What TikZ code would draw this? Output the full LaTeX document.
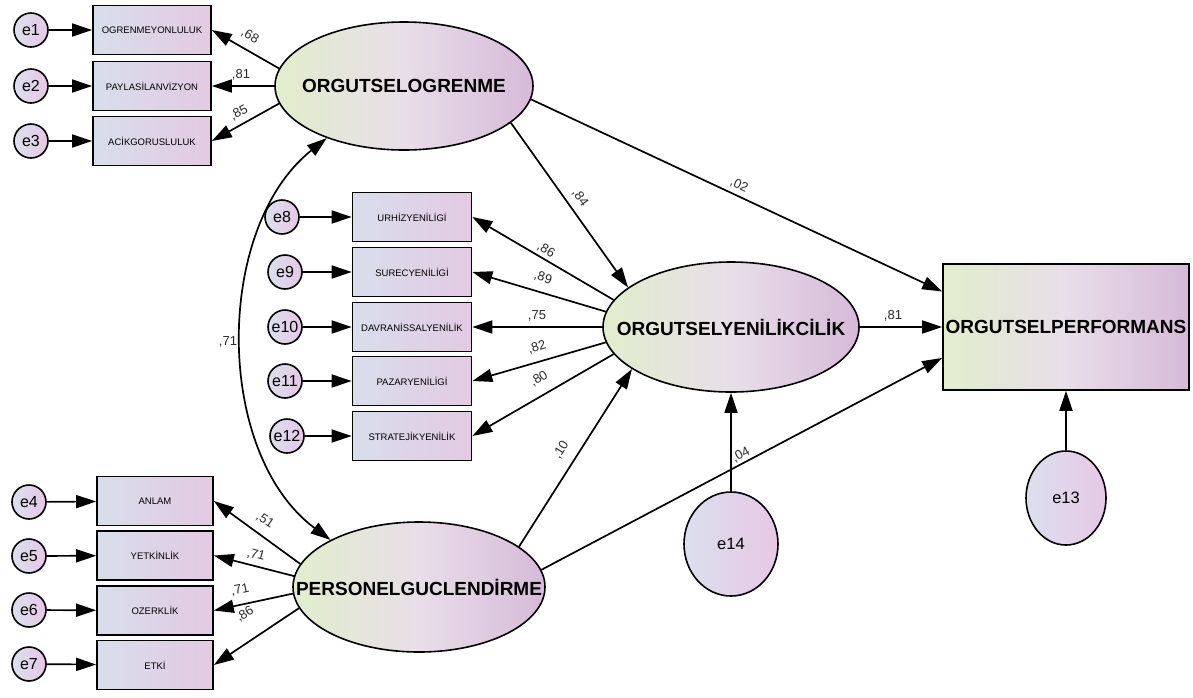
\documentclass[tikz,border=0pt]{standalone}
\usepackage{fontspec}
\setmainfont{Liberation Sans}
\usetikzlibrary{shapes.geometric,arrows.meta}

\definecolor{lvgreen}{HTML}{E1EECC}
\definecolor{lvmid}{HTML}{E8DEE9}
\definecolor{lvlilac}{HTML}{D6BAD8}
\definecolor{obsblue}{HTML}{D8DEEB}
\definecolor{obspink}{HTML}{E3CAE2}
\definecolor{errblue}{HTML}{DCDFEF}
\definecolor{errpink}{HTML}{E6C8E4}
\definecolor{coefcol}{HTML}{2A2A2A}

% zero-width centred text, so the ellipse keeps its own size
\newcommand{\cz}[1]{\makebox[0pt]{#1}}

\begin{document}
\begin{tikzpicture}[x=1pt,y=-1pt,
  latent/.style={ellipse, draw=black, line width=1.6pt, inner sep=0pt,
    minimum width=256pt, minimum height=128pt,
    left color=lvgreen, right color=lvlilac, middle color=lvmid,
    font=\fontsize{19}{19}\selectfont\bfseries},
  outcome/.style={rectangle, draw=black, line width=1.6pt, inner sep=0pt,
    minimum width=246pt, minimum height=126pt,
    left color=lvgreen, right color=lvlilac, middle color=lvmid,
    font=\fontsize{19}{19}\selectfont\bfseries},
  obsbox/.style={rectangle, draw=black, line width=1.7pt, inner sep=0pt,
    minimum height=49pt,
    left color=obsblue, right color=obspink,
    font=\fontsize{9.5}{10}\selectfont},
  errc/.style={circle, draw=black, line width=1.6pt, inner sep=0pt,
    minimum size=34pt, left color=errblue, right color=errpink,
    font=\fontsize{16}{16}\selectfont},
  errbig/.style={ellipse, draw=black, line width=1.6pt, inner sep=0pt,
    left color=errblue, right color=errpink,
    font=\fontsize{16.5}{16.5}\selectfont},
  arr/.style={draw, line width=1.7pt, -{Triangle[length=20pt,width=13pt]}},
  biarr/.style={draw, line width=1.7pt,
    {Triangle[length=20pt,width=13pt]}-{Triangle[length=20pt,width=13pt]}},
  coef/.style={font=\fontsize{13}{13}\selectfont, text=coefcol, inner sep=0pt}
]
\fill[white] (0,0) rectangle (1193,697);
\useasboundingbox (0,0) rectangle (1193,697);

% ---- organisational learning block
\node[errc] (e1) at (31,30) {e1};
\node[errc] (e2) at (31,86) {e2};
\node[errc] (e3) at (31,141) {e3};
\node[obsbox, minimum width=118pt] (o1) at (152,30) {OGRENMEYONLULUK};
\node[obsbox, minimum width=118pt] (o2) at (152,86) {PAYLASİLANVİZYON};
\node[obsbox, minimum width=118pt] (o3) at (152,141) {ACİKGORUSLULUK};
\node[latent, minimum width=258pt] (OL) at (404,86) {\cz{ORGUTSELOGRENME}};

% ---- innovation block
\node[errc] (e8) at (282,217) {e8};
\node[errc] (e9) at (285,272) {e9};
\node[errc] (e10) at (285,327) {e10};
\node[errc] (e11) at (285,381) {e11};
\node[errc] (e12) at (287,436) {e12};
\node[obsbox, minimum width=119pt] (m1) at (412,217) {URHİZYENİLİGİ};
\node[obsbox, minimum width=119pt] (m2) at (412,272) {SURECYENİLİGİ};
\node[obsbox, minimum width=119pt] (m3) at (412,327) {DAVRANİSSALYENİLİK};
\node[obsbox, minimum width=119pt] (m4) at (412,381) {PAZARYENİLİGİ};
\node[obsbox, minimum width=119pt] (m5) at (412,436) {STRATEJİKYENİLİK};
\node[latent, minimum height=130pt] (OY) at (731,327) {\cz{ORGUTSELYENİLİKCİLİK}};

% ---- performance
\node[outcome] (perf) at (1066,327) {ORGUTSELPERFORMANS};
\node[errbig, minimum width=80pt, minimum height=94pt] (e13) at (1066,498) {e13};
\node[errbig, minimum width=94pt, minimum height=104pt] (e14) at (731,544) {e14};

% ---- empowerment block
\node[errc] (e4) at (29,502) {e4};
\node[errc] (e5) at (29,556) {e5};
\node[errc] (e6) at (29,610) {e6};
\node[errc] (e7) at (29,664) {e7};
\node[obsbox, minimum width=116pt] (b1) at (155,501) {ANLAM};
\node[obsbox, minimum width=116pt] (b2) at (155,555.5) {YETKİNLİK};
\node[obsbox, minimum width=116pt] (b3) at (155,610.5) {OZERKLİK};
\node[obsbox, minimum width=116pt] (b4) at (155,665) {ETKİ};
\node[latent, minimum width=252pt, minimum height=130pt] (PG) at (419,587) {\cz{PERSONELGUCLENDİRME}};

% ---- error terms into indicators
\draw[arr] (e1) -- (o1);
\draw[arr] (e2) -- (o2);
\draw[arr] (e3) -- (o3);
\draw[arr] (e8) -- (m1);
\draw[arr] (e9) -- (m2);
\draw[arr] (e10) -- (m3);
\draw[arr] (e11) -- (m4);
\draw[arr] (e12) -- (m5);
\draw[arr] (e4) -- (b1);
\draw[arr] (e5) -- (b2);
\draw[arr] (e6) -- (b3);
\draw[arr] (e7) -- (b4);
\draw[arr] (e14) -- (OY);
\draw[arr] (e13) -- (perf);

% ---- loadings
\draw[arr] (OL.172) -- (o1.east);
\draw[arr] (OL.180) -- (o2.east);
\draw[arr] (OL.188) -- (o3.east);
\draw[arr] (OY.167) -- (m1.east);
\draw[arr] (OY.173) -- (m2.east);
\draw[arr] (OY.180) -- (m3.east);
\draw[arr] (OY.187) -- (m4.east);
\draw[arr] (OY.193) -- (m5.east);
\draw[arr] (PG.169) -- (b1.east);
\draw[arr] (PG.175) -- (b2.east);
\draw[arr] (PG.183) -- (b3.east);
\draw[arr] (PG.190) -- (b4.east);

% ---- structural paths
\draw[arr] (OL.354) -- (perf.164.5);
\draw[arr] (OL.341) -- (OY.159);
\draw[arr] (PG.22) -- (OY.203);
\draw[arr] (PG.8) -- (perf.194);
\draw[arr] (OY) -- (perf);
\draw[biarr] (OL.214) .. controls (214,228) and (214,453) .. (PG.152);

% ---- coefficients
\node[coef, rotate=-30] (c68) at (250,36) {,68};
\node[coef] (c81a) at (241,75) {,81};
\node[coef, rotate=28] (c85) at (239,113) {,85};
\node[coef, rotate=-31] (c86a) at (546,250) {,86};
\node[coef, rotate=-17] (c89) at (543,278) {,89};
\node[coef] (c75) at (537,316) {,75};
\node[coef, rotate=17] (c82) at (537,347) {,82};
\node[coef, rotate=31] (c80) at (539,379) {,80};
\node[coef, rotate=-55] (c84) at (580,198) {,84};
\node[coef, rotate=-25] (c02) at (739,185) {,02};
\node[coef, rotate=58] (c10) at (561,450) {,10};
\node[coef, rotate=28] (c04) at (741,455) {,04};
\node[coef] (c81b) at (893,316) {,81};
\node[coef] (c71) at (228,342) {,71};
\node[coef, rotate=-33] (c51) at (265,520) {,51};
\node[coef, rotate=-15] (c71b) at (256,555) {,71};
\node[coef, rotate=12] (c71c) at (240,590) {,71};
\node[coef, rotate=32] (c86b) at (245,614) {,86};
\end{tikzpicture}
\end{document}
